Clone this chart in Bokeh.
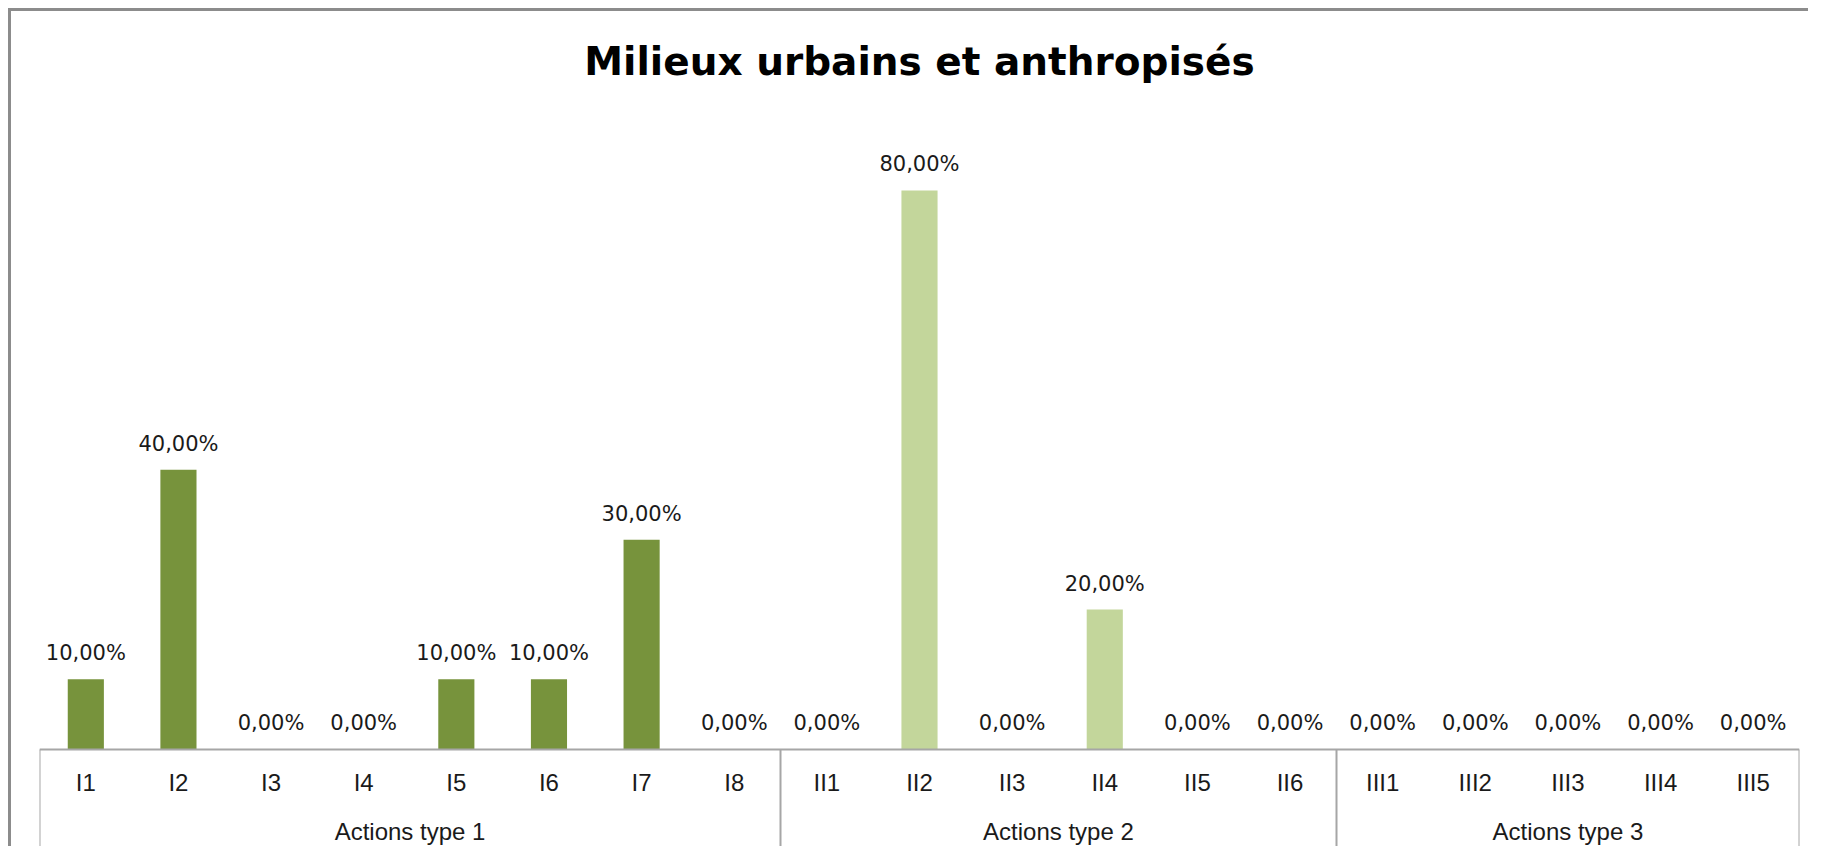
from bokeh.plotting import figure
from bokeh.models import (Range1d, LinearAxis, FixedTicker, ColumnDataSource, LabelSet)
from bokeh.core.properties import value
from bokeh.embed import file_html
from bokeh.resources import INLINE

# ---------------- data ----------------
title_text = "Milieux urbains et anthropisés"
groups = ["Actions type 1", "Actions type 2", "Actions type 3"]
cats_1 = ["I1", "I2", "I3", "I4", "I5", "I6", "I7", "I8"]
cats_2 = ["II1", "II2", "II3", "II4", "II5", "II6"]
cats_3 = ["III1", "III2", "III3", "III4", "III5"]
vals_1 = [0.10, 0.40, 0.00, 0.00, 0.10, 0.10, 0.30, 0.00]
vals_2 = [0.00, 0.80, 0.00, 0.20, 0.00, 0.00]
vals_3 = [0.00, 0.00, 0.00, 0.00, 0.00]
group_colors = ["#77933C", "#C3D69B", "#4F6228"]

# ---------------- build table ----------------
cat_lists = [cats_1, cats_2, cats_3]
val_lists = [vals_1, vals_2, vals_3]
names, tops, colors, labels = [], [], [], []
bounds = [0]
for cats, vals, col in zip(cat_lists, val_lists, group_colors):
    for c, v in zip(cats, vals):
        names.append(c)
        tops.append(v)
        colors.append(col)
        labels.append(f"{v * 100:.2f}".replace(".", ",") + "%")
    bounds.append(bounds[-1] + len(cats))
n = len(names)
xpos = [i + 0.5 for i in range(n)]
group_centers = [(a + b) / 2 for a, b in zip(bounds[:-1], bounds[1:])]

src = ColumnDataSource(dict(x=xpos, top=tops, color=colors, label=labels, name=names))

# ---------------- layout constants (pixels) ----------------
W, H = 1800, 838
ML, MR, MT = 28, 12, 87
PX_PER_UNIT = 698.5        # pixels for 100 %
ZERO_FROM_TOP = 650.7      # pixels from frame top to the 0 line
frame_h = H - MT
y_end = ZERO_FROM_TOP / PX_PER_UNIT
y_start = -(frame_h - ZERO_FROM_TOP) / PX_PER_UNIT

p = figure(width=W, height=H,
           x_range=Range1d(0, n),
           y_range=Range1d(y_start, y_end),
           x_axis_location=None, y_axis_location=None,
           toolbar_location=None, output_backend="svg",
           min_border_left=ML, min_border_right=MR,
           min_border_top=MT, min_border_bottom=0,
           title=title_text)
p.styles = {"margin-top": "8px", "margin-left": "8px",
            "border-top": "3px solid #8c8c8c", "border-left": "3px solid #8c8c8c"}
p.outline_line_color = None
p.xgrid.visible = False
p.ygrid.visible = False
p.background_fill_color = "white"
p.border_fill_color = "white"

p.title.text_font = "DejaVu Sans"
p.title.text_font_size = "39px"
p.title.text_font_style = "bold"
p.title.text_color = "#000000"
p.title.align = "center"
p.title.standoff = 30

p.vbar(x="x", top="top", width=0.39, fill_color="color", line_color=None, source=src)

lbl = LabelSet(x="x", y="top", text="label", source=src, y_offset=19,
               text_align="center", text_baseline="alphabetic",
               text_font=value("DejaVu Sans"), text_font_size="21px",
               text_color="#1a1a1a")
p.add_layout(lbl)

AXIS_GREY = "#a6a6a6"
# box lines of the category axis (axis line + group separators)
sep = LinearAxis(fixed_location=0,
                 ticker=FixedTicker(ticks=bounds, minor_ticks=[]),
                 major_label_overrides={float(b): "" for b in bounds},
                 major_label_text_color=None,
                 major_tick_out=100, major_tick_in=0,
                 axis_line_color=AXIS_GREY, axis_line_width=2,
                 major_tick_line_color=AXIS_GREY, major_tick_line_width=2,
                 minor_tick_line_color=None)
p.add_layout(sep, "below")

# category labels
cax = LinearAxis(fixed_location=0,
                 ticker=FixedTicker(ticks=xpos, minor_ticks=[]),
                 major_label_overrides={float(x): s for x, s in zip(xpos, names)},
                 axis_line_color=None, major_tick_line_color=None,
                 minor_tick_line_color=None,
                 major_tick_out=0, major_tick_in=0,
                 major_label_standoff=20,
                 major_label_text_font="Liberation Sans",
                 major_label_text_font_size="24px",
                 major_label_text_color="#1a1a1a")
p.add_layout(cax, "below")

# group labels
gax = LinearAxis(fixed_location=0,
                 ticker=FixedTicker(ticks=group_centers, minor_ticks=[]),
                 major_label_overrides={float(x): s for x, s in zip(group_centers, groups)},
                 axis_line_color=None, major_tick_line_color=None,
                 minor_tick_line_color=None,
                 major_tick_out=0, major_tick_in=0,
                 major_label_standoff=69,
                 major_label_text_font="Liberation Sans",
                 major_label_text_font_size="24px",
                 major_label_text_color="#1a1a1a")
p.add_layout(gax, "below")

open("out.html", "w").write(file_html(p, INLINE))
